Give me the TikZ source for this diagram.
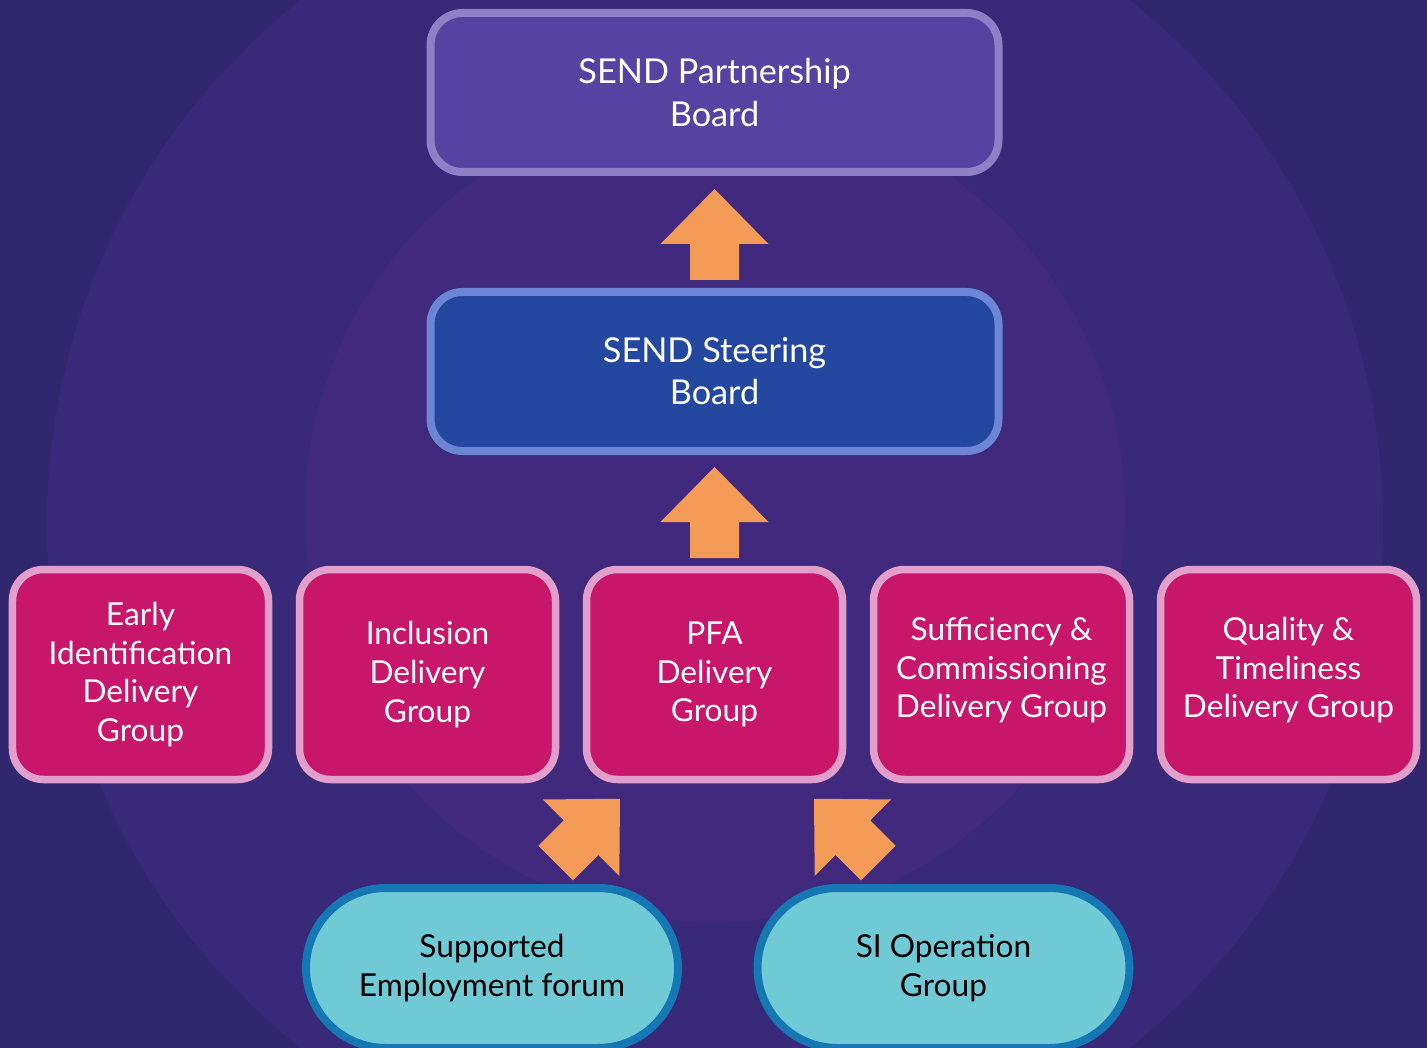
\documentclass[tikz,border=0pt]{standalone}
\usepackage{fontspec}
\setmainfont{Lato}
\usetikzlibrary{positioning, calc}

\definecolor{bgbase}{HTML}{31276F}
\definecolor{ringout}{HTML}{382A78}
\definecolor{ringin}{HTML}{41297E}
\definecolor{partfill}{HTML}{5642A0}
\definecolor{partline}{HTML}{8D80C6}
\definecolor{steerfill}{HTML}{2447A0}
\definecolor{steerline}{HTML}{6D85D5}
\definecolor{groupfill}{HTML}{C8166A}
\definecolor{groupline}{HTML}{E39FCB}
\definecolor{forumfill}{HTML}{70CAD6}
\definecolor{forumline}{HTML}{1677B5}
\definecolor{arrowfill}{HTML}{F49B57}

\tikzset{
  blockarrow/.pic={
    \fill[arrowfill] (0,0) -- (1.08,-1.1) -- (0.49,-1.1) -- (0.49,-1.82)
      -- (-0.49,-1.82) -- (-0.49,-1.1) -- (-1.08,-1.1) -- cycle;
  }
}

\begin{document}
\begin{tikzpicture}[node distance=5.74cm, semithick]
		\tikzstyle{board}=[rectangle, rounded corners=0.64cm, line width=0.16cm, minimum width=11.36cm, minimum height=3.18cm, text=white, align=center, font=\fontsize{19.5}{24}\selectfont]
		\tikzstyle{group}=[rectangle, rounded corners=0.62cm, line width=0.15cm, draw=groupline, fill=groupfill, minimum width=5.12cm, minimum height=4.2cm, text=white, align=center, font=\fontsize{18}{22}\selectfont]
		\tikzstyle{forum}=[rectangle, rounded corners=1.6cm, line width=0.16cm, draw=forumline, fill=forumfill, minimum width=7.44cm, minimum height=3.2cm, text=black, align=center, font=\fontsize{18}{22}\selectfont]

		% background with the two rings
		\useasboundingbox (0,0) rectangle (28.54,-20.96);
		\fill[bgbase] (0,0) rectangle (28.54,-20.96);
		\begin{scope}
			\clip (0,0) rectangle (28.54,-20.96);
			\fill[ringout] (14.30,-10.48) circle (13.36);
			\fill[ringin] (14.30,-10.24) circle (8.2);
		\end{scope}

		\node[group] (pfa) at (14.29,-13.49) {PFA\\Delivery\\Group};
		\node[group] (inc) [left of=pfa]  {Inclusion\\Delivery\\Group};
		\node[group] (early) [left of=inc] {Early\\Identification\\Delivery\\Group};
		\node[group] (suff) [right of=pfa] {Sufficiency \&\\Commissioning\\Delivery Group\\[-0.5cm]\mbox{}};
		\node[group] (qual) [right of=suff] {Quality \&\\Timeliness\\Delivery Group\\[-0.5cm]\mbox{}};

		\node[board, draw=steerline, fill=steerfill] (steer) [above of=pfa, node distance=6.06cm] {SEND Steering\\Board};
		\node[board, draw=partline, fill=partfill] (partner) [above of=steer, node distance=5.58cm] {SEND Partnership\\Board};

		\node[forum] (sup) at (9.84,-19.36) {Supported\\Employment forum};
		\node[forum] (sio) at (18.87,-19.36) {SI Operation\\Group};

		% block arrows
		\pic at ($(partner.south)+(0,-0.26)$) {blockarrow};
		\pic at ($(steer.south)+(0,-0.24)$) {blockarrow};
		\pic[rotate=-45] at ($(pfa.south)+(-1.89,-0.31)$) {blockarrow};
		\pic[rotate=45] at ($(pfa.south)+(1.99,-0.31)$) {blockarrow};
	\end{tikzpicture}
\end{document}
